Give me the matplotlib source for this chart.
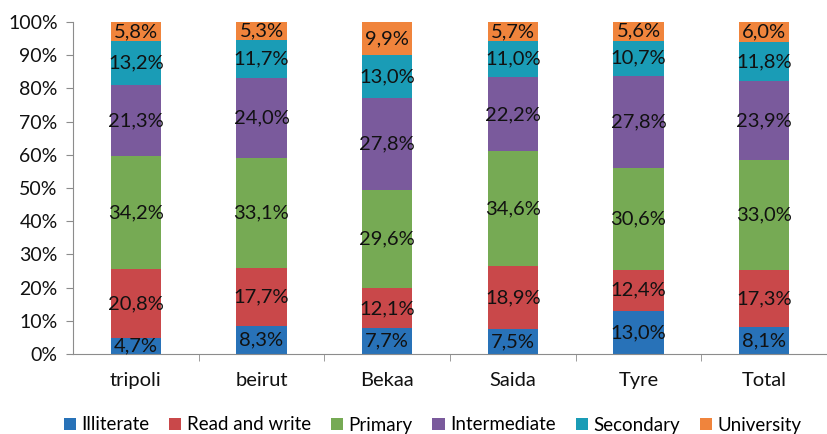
import numpy as np
import matplotlib.pyplot as plt

regions = ["tripoli", "beirut", "Bekaa", "Saida", "Tyre", "Total"]
levels = ["Illiterate", "Read and write", "Primary", "Intermediate", "Secondary", "University"]

illiterate = [4.7, 8.3, 7.7, 7.5, 13.0, 8.1]
read_write = [20.8, 17.7, 12.1, 18.9, 12.4, 17.3]
primary = [34.2, 33.1, 29.6, 34.6, 30.6, 33.0]
intermediate = [21.3, 24.0, 27.8, 22.2, 27.8, 23.9]
secondary = [13.2, 11.7, 13.0, 11.0, 10.7, 11.8]
university = [5.8, 5.3, 9.9, 5.7, 5.6, 6.0]

colors = ["#2872B8", "#C9484A", "#76AA54", "#7A5A9C", "#1A9CB6", "#F0843C"]

plt.rcParams["font.family"] = ["Lato", "DejaVu Sans"]

series = np.array([illiterate, read_write, primary, intermediate, secondary, university])
# 100% stacked: scale each column to its own total
shares = series / series.sum(axis=0)

fig = plt.figure(figsize=(8.27, 4.34), dpi=100)
ax = fig.add_axes([73 / 827, 1 - 354 / 434, 1 - 73 / 827, (354 - 22) / 434])

x = np.arange(len(regions))
bottom = np.zeros(len(regions))
handles = []
for vals, frac, name, c in zip(series, shares, levels, colors):
    bars = ax.bar(x, frac, width=0.4, bottom=bottom, color=c, label=name)
    handles.append(bars)
    for xi, b, f, v in zip(x, bottom, frac, vals):
        ax.text(xi, b + f / 2, f"{v:.1f}%".replace(".", ","), ha="center",
                va="center", fontsize=14.5, color="#111111")
    bottom += frac

ax.set_xlim(-0.5, len(regions) - 0.5)
ax.set_ylim(0, 1)
ax.set_yticks(np.arange(0, 1.01, 0.1))
ax.set_yticklabels([f"{int(round(t * 100))}%" for t in np.arange(0, 1.01, 0.1)])
ax.set_xticks(x)
ax.set_xticklabels(regions)
ax.set_xticks(np.arange(0.5, len(regions) - 0.5, 1), minor=True)

for side in ["top", "right"]:
    ax.spines[side].set_visible(False)
for side in ["left", "bottom"]:
    ax.spines[side].set_color("#8C8C8C")
ax.tick_params(axis="x", which="major", length=0, pad=13, labelsize=14.5, colors="#111111")
ax.tick_params(axis="x", which="minor", length=5, color="#8C8C8C")
ax.tick_params(axis="y", length=5, color="#8C8C8C", labelsize=14, labelcolor="#111111", pad=6)

fig.legend(handles=handles, loc="center", bbox_to_anchor=(0.523, 1 - 425 / 434),
           ncol=6, frameon=False, fontsize=13.5, handlelength=0.65, handleheight=0.65,
           handletextpad=0.3, columnspacing=1.05)

fig.savefig("out.png", dpi=100)
